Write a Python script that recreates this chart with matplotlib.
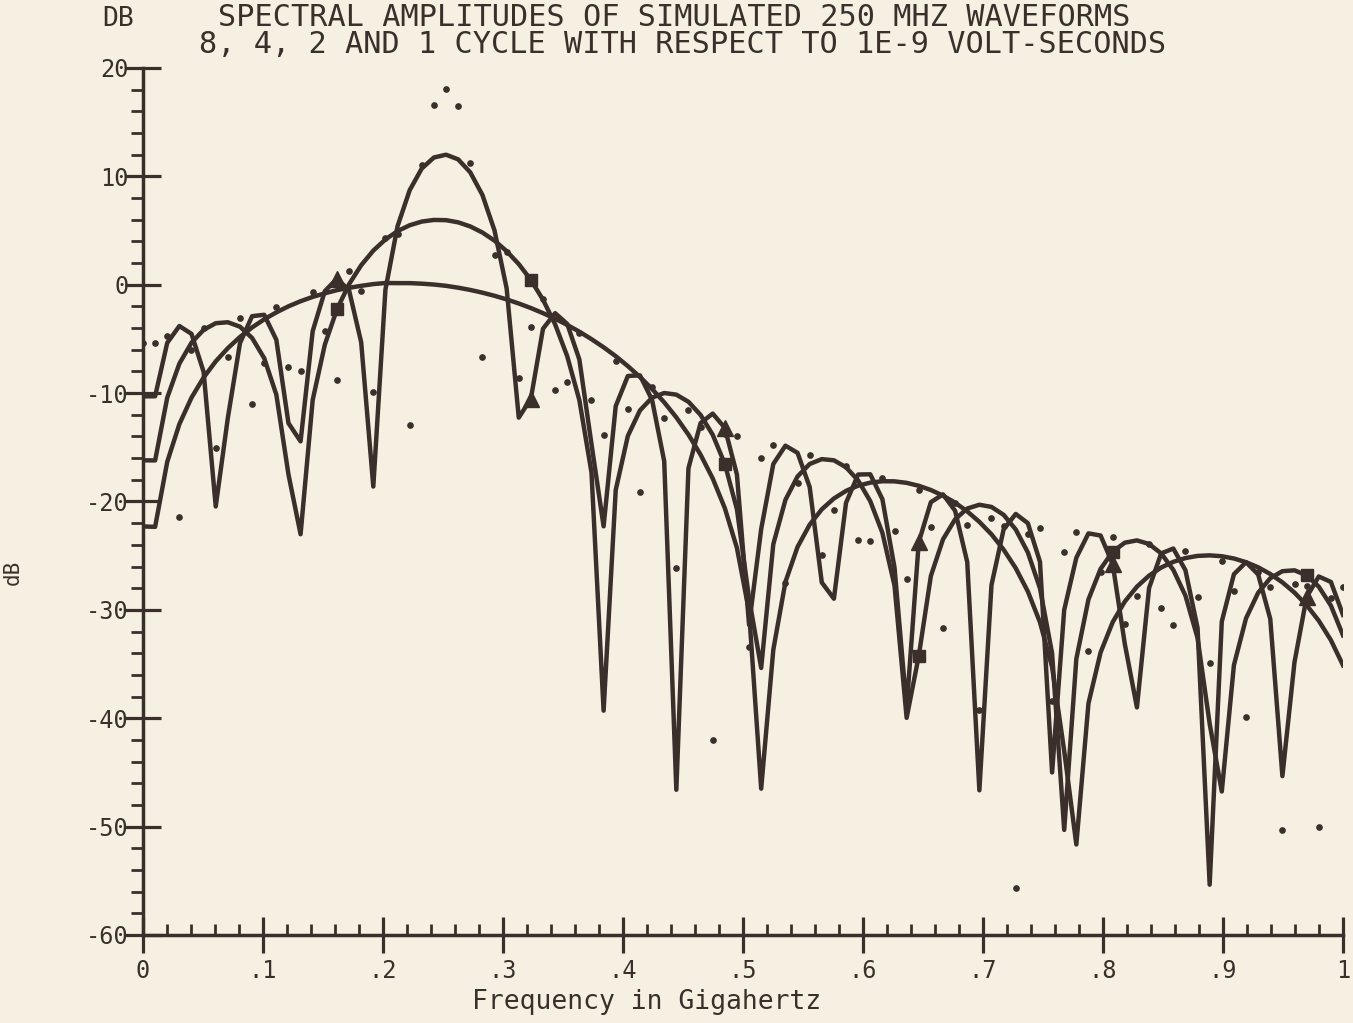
import numpy as np
import matplotlib
matplotlib.use("Agg")
import matplotlib.pyplot as plt
from matplotlib.ticker import MultipleLocator, FixedLocator

# ---------------- data ----------------
# 100 frequency samples spanning 0 .. 1 GHz
freq = np.linspace(0.0, 1.0, 100)

# 4-cycle burst (solid line, triangle markers)
cycle4_db = [
    -10.3, -10.29, -5.36, -3.81, -4.53, -8.03, -20.46, -12.28, -5.39, -2.90,
    -2.77, -5.08, -12.77, -14.45, -4.28, -0.59, 0.56, -0.51, -5.31, -18.62,
    -0.45, 5.40, 8.72, 10.73, 11.74, 12.00, 11.57, 10.37, 8.29, 5.01,
    -0.33, -12.26, -10.51, -4.06, -2.62, -3.62, -6.90, -14.70, -22.29, -11.20,
    -8.42, -8.36, -10.63, -16.28, -46.60, -16.93, -12.76, -11.89, -13.20, -17.52,
    -31.38, -22.55, -16.54, -14.85, -15.51, -18.66, -27.47, -28.97, -20.12, -17.51,
    -17.49, -19.79, -26.10, -39.03, -23.75, -20.06, -19.34, -20.86, -25.59, -46.65,
    -27.71, -22.58, -21.15, -22.00, -25.56, -45.00, -30.00, -25.19, -22.94, -23.14,
    -25.77, -33.15, -39.00, -27.99, -24.79, -24.34, -26.34, -31.66, -55.36, -31.08,
    -26.71, -25.60, -26.73, -30.84, -45.34, -34.81, -28.81, -26.92, -27.42, -30.46,
]

# 2-cycle burst (solid line, square markers)
cycle2_db = [
    -16.2, -16.21, -10.42, -7.28, -5.35, -4.16, -3.55, -3.46, -3.87, -4.91,
    -6.78, -10.14, -17.50, -23.02, -10.63, -5.53, -2.27, 0.05, 1.80, 3.15,
    4.18, 4.95, 5.49, 5.83, 5.98, 5.96, 5.76, 5.38, 4.82, 4.07,
    3.10, 1.91, 0.44, -1.38, -3.65, -6.60, -10.65, -17.32, -39.30, -18.94,
    -13.95, -11.59, -10.42, -9.99, -10.14, -10.80, -12.01, -13.84, -16.53, -20.72,
    -28.94, -35.36, -23.94, -19.85, -17.69, -16.54, -16.09, -16.20, -16.84, -18.06,
    -19.97, -22.89, -27.76, -39.96, -34.25, -26.87, -23.49, -21.64, -20.65, -20.30,
    -20.50, -21.23, -22.58, -24.70, -28.01, -34.01, -50.30, -34.52, -29.04, -26.22,
    -24.63, -23.80, -23.59, -23.92, -24.79, -26.31, -28.68, -32.59, -40.51, -46.76,
    -35.10, -30.78, -28.42, -27.08, -26.43, -26.35, -26.82, -27.86, -29.60, -32.35,
]

# 1-cycle burst (solid line)
cycle1_db = [
    -22.3, -22.34, -16.34, -12.86, -10.42, -8.56, -7.07, -5.85, -4.82, -3.94,
    -3.19, -2.55, -1.99, -1.52, -1.12, -0.79, -0.50, -0.28, -0.10, 0.06,
    0.16, 0.15, 0.15, 0.10, 0.02, -0.10, -0.27, -0.48, -0.73, -1.02,
    -1.35, -1.73, -2.15, -2.62, -3.13, -3.71, -4.33, -5.02, -5.77, -6.59,
    -7.51, -8.51, -9.62, -10.85, -12.24, -13.83, -15.68, -17.87, -20.61, -24.29,
    -30.14, -46.50, -33.68, -27.42, -24.19, -22.14, -20.72, -19.72, -19.02, -18.54,
    -18.26, -18.13, -18.14, -18.28, -18.55, -18.94, -19.46, -20.11, -20.91, -21.88,
    -23.03, -24.44, -26.15, -28.30, -31.14, -35.28, -43.02, -51.65, -38.63, -33.93,
    -31.13, -29.23, -27.86, -26.84, -26.09, -25.57, -25.22, -25.02, -24.97, -25.05,
    -25.26, -25.60, -26.07, -26.69, -27.46, -28.41, -29.57, -31.00, -32.79, -35.11,
]

# 8-cycle burst (plotted as dots only)
cycle8_db = [
    -5.4, -5.38, -4.72, -21.43, -5.99, -3.98, -15.09, -6.63, -3.11, -11.00,
    -7.26, -2.06, -7.62, -7.95, -0.69, -4.30, -8.76, 1.25, -0.56, -9.92,
    4.34, 4.64, -12.90, 11.06, 16.55, 18.05, 16.52, 11.22, -6.65, 2.74,
    3.05, -8.65, -3.86, -1.31, -9.74, -9.01, -4.46, -10.64, -13.88, -7.08,
    -11.46, -19.16, -9.41, -12.26, -26.09, -11.60, -13.08, -42.00, -13.76, -13.92,
    -33.38, -15.97, -14.81, -27.50, -18.28, -15.73, -24.93, -20.81, -16.72, -23.53,
    -23.68, -17.79, -22.73, -27.14, -18.92, -22.33, -31.71, -20.15, -22.18, -39.25,
    -21.50, -22.23, -55.62, -22.98, -22.45, -38.41, -24.65, -22.80, -33.80, -26.55,
    -23.28, -31.33, -28.76, -23.89, -29.82, -31.43, -24.61, -28.84, -34.89, -25.47,
    -28.23, -39.91, -26.46, -27.89, -50.32, -27.60, -27.76, -50.03, -28.91, -27.85,
]

# samples that carry a symbol
marker_index = [16, 32, 48, 64, 80, 96]

x_ticks = [0.0, 0.1, 0.2, 0.3, 0.4, 0.5, 0.6, 0.7, 0.8, 0.9, 1.0]
x_tick_labels = ["0", ".1", ".2", ".3", ".4", ".5", ".6", ".7", ".8", ".9", "1"]
y_ticks = [-60, -50, -40, -30, -20, -10, 0, 10, 20]
y_tick_labels = ["-60", "-50", "-40", "-30", "-20", "-10", "0", "10", "20"]

title_line1 = "SPECTRAL AMPLITUDES OF SIMULATED 250 MHZ WAVEFORMS"
title_line2 = "8, 4, 2 AND 1 CYCLE WITH RESPECT TO 1E-9 VOLT-SECONDS"
corner_label = "DB"
x_label = "Frequency in Gigahertz"
y_label = "dB"

# ---------------- style ----------------
INK = "#3a2f2b"
PAPER = "#f6f0e3"
MONO = ["DejaVu Sans Mono", "DejaVu Sans"]
plt.rcParams["font.family"] = MONO

W, H = 1353, 1023
fig = plt.figure(figsize=(W / 100, H / 100), dpi=100, facecolor=PAPER)
ax = fig.add_axes([143 / W, 88 / H, 1200 / W, 867 / H])
ax.set_facecolor(PAPER)
ax.set_xlim(0, 1)
ax.set_ylim(-60, 20)

for side in ("top", "right"):
    ax.spines[side].set_visible(False)
for side in ("left", "bottom"):
    ax.spines[side].set_linewidth(2.5)
    ax.spines[side].set_color(INK)

c4 = np.array(cycle4_db)
c2 = np.array(cycle2_db)
c1 = np.array(cycle1_db)
c8 = np.array(cycle8_db)
mi = np.array(marker_index)

lw = 3.2
ax.plot(freq, c1, color=INK, lw=lw, zorder=3)
ax.plot(freq, c2, color=INK, lw=lw, zorder=3)
ax.plot(freq, c4, color=INK, lw=lw, zorder=3)
ax.plot(freq, c8, linestyle="none", marker="o", ms=3.8, color=INK, zorder=4)
ax.plot(freq[mi], c4[mi], linestyle="none", marker="^", ms=11, color=INK, zorder=5)
ax.plot(freq[mi], c2[mi], linestyle="none", marker="s", ms=9, color=INK, zorder=5)

ax.xaxis.set_major_locator(FixedLocator(x_ticks))
ax.set_xticklabels(x_tick_labels)
ax.xaxis.set_minor_locator(MultipleLocator(0.02))
ax.yaxis.set_major_locator(FixedLocator(y_ticks))
ax.set_yticklabels(y_tick_labels)
ax.yaxis.set_minor_locator(MultipleLocator(2))

ax.tick_params(axis="x", which="major", direction="inout", length=26, width=2.3,
               color=INK, labelcolor=INK, labelsize=17, pad=4)
ax.tick_params(axis="x", which="minor", direction="in", length=8, width=2.0, color=INK)
ax.tick_params(axis="y", which="major", direction="inout", length=26, width=2.3,
               color=INK, labelcolor=INK, labelsize=17, pad=-3)
ax.tick_params(axis="y", which="minor", direction="out", length=9, width=2.0, color=INK)

# two-line title as one text block (first line padded by one space so its
# centre sits a little to the left of the second line, as in the reference)
fig.text(683 / W, 1 - 31 / H, title_line1 + " \n" + title_line2,
         ha="center", va="center", multialignment="center", linespacing=0.93,
         fontsize=21.8, color=INK, family=MONO)
fig.text(118 / W, 1 - 19 / H, corner_label, ha="center", va="center",
         fontsize=19, color=INK, family=MONO)
fig.text(647 / W, 1 - 1002 / H, x_label, ha="center", va="center",
         fontsize=19, color=INK, family=MONO)
fig.text(13 / W, 1 - 572 / H, y_label, ha="center", va="center", rotation=90,
         fontsize=15, color=INK, family=MONO)

fig.savefig("out.png", dpi=100, facecolor=PAPER)
